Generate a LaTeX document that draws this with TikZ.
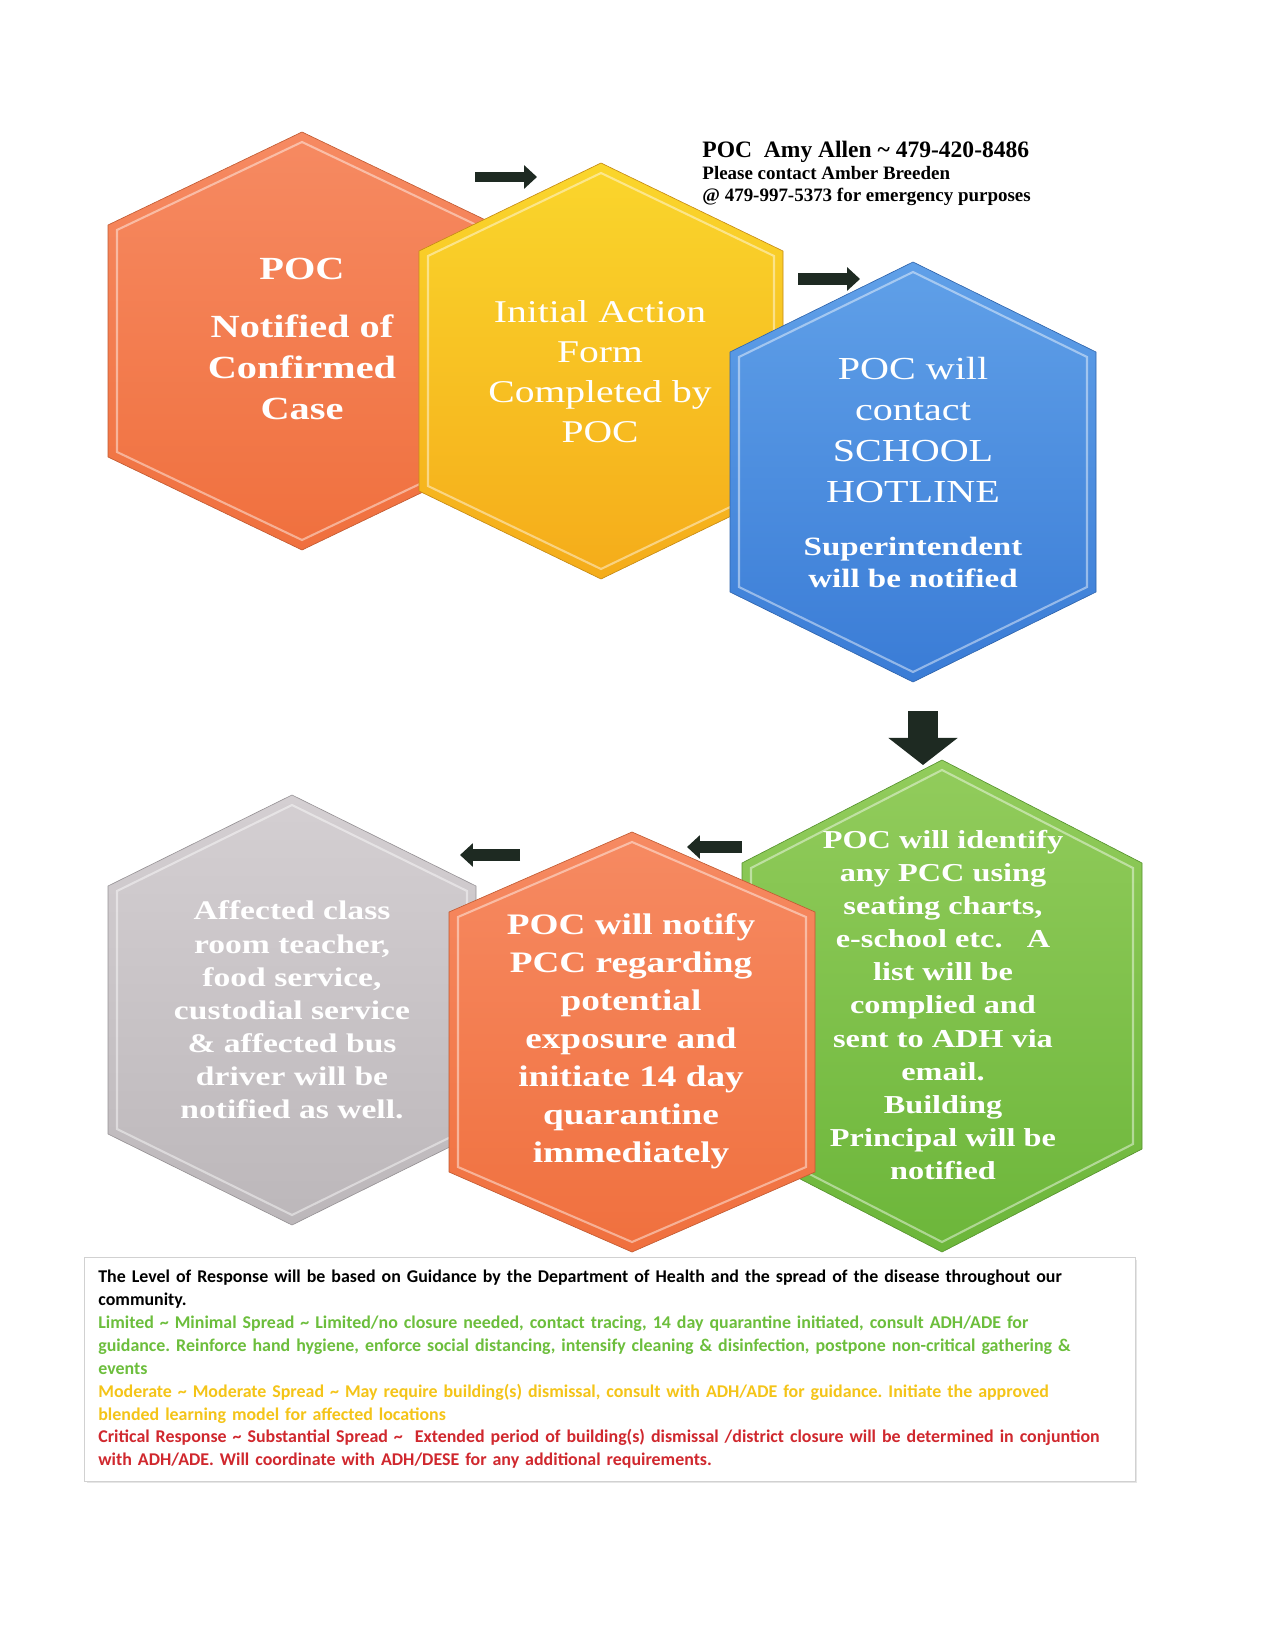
\documentclass[tikz,border=0pt]{standalone}
\usepackage{fontspec}
\setmainfont{Liberation Serif}
\newfontfamily\hexfont[FakeStretch=1.25]{Liberation Serif}
\newfontfamily\notefont{Carlito}
\usepackage{xcolor}
\usepackage{tikz}
\usetikzlibrary{arrows.meta,shadows}

\definecolor{orangetop}{RGB}{246,138,98}
\definecolor{orangebot}{RGB}{240,112,62}
\definecolor{yellowtop}{RGB}{250,214,44}
\definecolor{yellowbot}{RGB}{245,172,26}
\definecolor{bluetop}{RGB}{96,160,232}
\definecolor{bluebot}{RGB}{58,124,214}
\definecolor{greentop}{RGB}{146,204,92}
\definecolor{greenbot}{RGB}{108,182,58}
\definecolor{graytop}{RGB}{212,207,210}
\definecolor{graybot}{RGB}{188,183,186}
\definecolor{arrowdark}{RGB}{30,42,34}
\definecolor{limitedgreen}{RGB}{108,190,60}
\definecolor{moderateyellow}{RGB}{244,196,24}
\definecolor{criticalred}{RGB}{208,40,46}

% hexagon: centre x, centre y, half width, half height, side offset, style
\newcommand{\hexcell}[6]{%
  \path[#6] (#1,#2-#4) -- (#1+#3,#2-#5) -- (#1+#3,#2+#5) -- (#1,#2+#4)
    -- (#1-#3,#2+#5) -- (#1-#3,#2-#5) -- cycle;}

\frenchspacing
\begin{document}
\begin{tikzpicture}[x=0.48pt, y=-0.48pt, >=Stealth,
    hexlabel/.style={text=white, align=center, inner sep=0pt},
    bevel/.style={draw=white, draw opacity=0.45, line width=1pt},
    blockarrow/.style={draw=arrowdark, -{Triangle[length=6.2pt, width=11pt]}}]
    \useasboundingbox (0,0) rectangle (1275,1650);

    % POC notified
    \hexcell{302}{341}{194}{209}{116}{top color=orangetop, bottom color=orangebot, draw=orangebot!80!black, line width=0.3pt}
    \hexcell{302}{341}{185}{199}{111}{bevel}
    \node[hexlabel, font={\hexfont\bfseries\fontsize{15.5pt}{19.7pt}\selectfont}] (notified) at (302,339) {POC\\[8pt]Notified of\\Confirmed\\Case};

    % Initial action form
    \hexcell{601}{371}{182}{208}{120}{top color=yellowtop, bottom color=yellowbot, draw=yellowbot!80!black, line width=0.3pt}
    \hexcell{601}{371}{173}{198}{115}{bevel}
    \node[hexlabel, font={\hexfont\fontsize{15.2pt}{19.2pt}\selectfont}] (form) at (600,372) {Initial Action\\Form\\Completed by\\POC};

    % School hotline
    \hexcell{913}{472}{183}{210}{120}{top color=bluetop, bottom color=bluebot, draw=bluebot!80!black, line width=0.3pt}
    \hexcell{913}{472}{174}{200}{115}{bevel}
    \node[hexlabel, font={\hexfont\fontsize{15.4pt}{19.7pt}\selectfont}] (hotline) at (913,430) {POC will\\contact\\SCHOOL\\HOTLINE};
    \node[hexlabel, font={\hexfont\bfseries\fontsize{12.7pt}{15.4pt}\selectfont}] (superintendent) at (913,562) {Superintendent\\will be notified};

    % Identify PCC
    \hexcell{942}{1006}{200}{246}{143}{top color=greentop, bottom color=greenbot, draw=greenbot!80!black, line width=0.3pt}
    \hexcell{942}{1006}{191}{236}{138}{bevel}
    \node[hexlabel, font={\hexfont\bfseries\fontsize{12.4pt}{15.9pt}\selectfont}] (identify) at (943,1005) {POC will identify\\any PCC using\\seating charts,\\e-school etc.\ \ \ A\\list will be\\complied and\\sent to ADH via\\email.\\Building\\Principal will be\\notified};

    % Affected staff
    \hexcell{292}{1010}{184}{215}{124}{top color=graytop, bottom color=graybot, draw=graybot!80!black, line width=0.3pt}
    \hexcell{292}{1010}{175}{205}{119}{bevel}
    \node[hexlabel, font={\hexfont\bfseries\fontsize{12.9pt}{15.9pt}\selectfont}] (affected) at (292,1010) {Affected class\\room teacher,\\food service,\\custodial service\\\& affected bus\\driver will be\\notified as well.};

    % Notify PCC
    \hexcell{632}{1042}{183}{210}{130}{top color=orangetop, bottom color=orangebot, draw=orangebot!80!black, line width=0.3pt}
    \hexcell{632}{1042}{174}{200}{125}{bevel}
    \node[hexlabel, font={\hexfont\bfseries\fontsize{14.3pt}{18.2pt}\selectfont}] (notifypcc) at (631,1041) {POC will notify\\PCC regarding\\potential\\exposure and\\initiate 14 day\\quarantine\\immediately};

    % Arrows
    \coordinate (a1s) at (475,177);
    \coordinate (a1e) at (537,177);
    \coordinate (a2s) at (798,279);
    \coordinate (a2e) at (860,279);
    \coordinate (a3s) at (923,711);
    \coordinate (a3e) at (923,765);
    \coordinate (a4s) at (742,847);
    \coordinate (a4e) at (687,847);
    \coordinate (a5s) at (520,855);
    \coordinate (a5e) at (460,855);
    \draw[blockarrow, line width=4.8pt] (a1s) -- (a1e);
    \draw[blockarrow, line width=5.6pt] (a2s) -- (a2e);
    \draw[draw=arrowdark, line width=14.4pt, -{Triangle[length=13pt, width=32.6pt]}] (a3s) -- (a3e);
    \draw[blockarrow, line width=5.6pt] (a4s) -- (a4e);
    \draw[blockarrow, line width=5.6pt] (a5s) -- (a5e);

    % Contact note
    \node[anchor=north west, inner sep=0pt, align=left, font={\bfseries\fontsize{9.1pt}{10.6pt}\selectfont}] (contact) at (702,141) {{\fontsize{11.3pt}{10.6pt}\selectfont POC\ \ Amy Allen \textasciitilde{} 479-420-8486}\\Please contact Amber Breeden\\@ 479-997-5373 for emergency purposes};

    % Level of response
    \node[anchor=north west, draw=black!18, fill=white, drop shadow={opacity=0.2, shadow xshift=1pt, shadow yshift=-1pt}, inner xsep=6.7pt, inner ysep=6pt, text width=491pt, minimum height=107pt, align=left, font={\notefont\bfseries\fontsize{8.6pt}{11pt}\selectfont}] (levels) at (84,1257) {The Level of Response will be based on Guidance by the Department of Health and the spread of the disease throughout our\\
    community.\\
    \textcolor{limitedgreen}{Limited \textasciitilde{} Minimal Spread \textasciitilde{} Limited/no closure needed, contact tracing, 14 day quarantine initiated, consult ADH/ADE for}\\
    \textcolor{limitedgreen}{guidance. Reinforce hand hygiene, enforce social distancing, intensify cleaning \& disinfection, postpone non-critical gathering \&}\\
    \textcolor{limitedgreen}{events}\\
    \textcolor{moderateyellow}{Moderate \textasciitilde{} Moderate Spread \textasciitilde{} May require building(s) dismissal, consult with ADH/ADE for guidance. Initiate the approved}\\
    \textcolor{moderateyellow}{blended learning model for affected locations}\\
    \textcolor{criticalred}{Critical Response \textasciitilde{} Substantial Spread \textasciitilde{}\ \ Extended period of building(s) dismissal /district closure will be determined in conjuntion}\\
    \textcolor{criticalred}{with ADH/ADE. Will coordinate with ADH/DESE for any additional requirements.}};
\end{tikzpicture}
\end{document}
